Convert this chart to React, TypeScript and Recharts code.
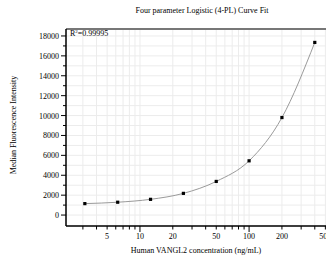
import React from "react";
import { LineChart, Line, XAxis, YAxis, CartesianGrid, ReferenceLine } from "recharts";

const concentrations = [3.125, 6.25, 12.5, 25, 50, 100, 200, 400];
const mfiValues = [1150, 1290, 1580, 2180, 3380, 5450, 9800, 17350];
const xTickValues = [3, 4, 5, 6, 7, 8, 9, 10, 20, 30, 40, 50, 60, 70, 80, 90, 100, 200, 300, 400, 500, 600];
const xLabelValues = [5, 10, 20, 50, 100, 200, 500];
const xMajorValues = [10, 100];
const yTickValues = [0, 1000, 2000, 3000, 4000, 5000, 6000, 7000, 8000, 9000, 10000, 11000, 12000, 13000, 14000, 15000, 16000, 17000, 18000];
const yLabelValues = [0, 2000, 4000, 6000, 8000, 10000, 12000, 14000, 16000, 18000];

const data = concentrations.map((c, i) => ({ conc: c, mfi: mfiValues[i] }));

const FONT = "'Liberation Serif', 'DejaVu Serif', serif";

const XTick = (props: any) => {
  const { x, y, payload } = props;
  const v = payload.value;
  const major = xMajorValues.includes(v);
  const labeled = xLabelValues.includes(v);
  return (
    <g>
      <line x1={x} x2={x} y1={y} y2={y + (major ? 6 : 3.5)} stroke="#000" strokeWidth={1} />
      {labeled && (
        <text x={x} y={y + 13} textAnchor="middle" fontSize={8} fontFamily={FONT} fill="#000">
          {v}
        </text>
      )}
    </g>
  );
};

const YTick = (props: any) => {
  const { x, y, payload } = props;
  const v = payload.value;
  const labeled = yLabelValues.includes(v);
  return (
    <g>
      <line x1={x} x2={x - (labeled ? 5 : 3)} y1={y} y2={y} stroke="#000" strokeWidth={1} />
      {labeled && (
        <text x={x - 7} y={y + 3} textAnchor="end" fontSize={8} fontFamily={FONT} fill="#000">
          {v}
        </text>
      )}
    </g>
  );
};

const SquareDot = (props: any) => {
  const { cx, cy, index } = props;
  return <rect key={`d${index}`} x={cx - 1.6} y={cy - 1.6} width={3.2} height={3.2} fill="#000" />;
};

export default function App() {
  return (
    <div style={{ position: "absolute", left: 0, top: 0, width: 326, height: 268, overflow: "hidden", background: "#fff" }}>
      <LineChart width={340} height={268} data={data} margin={{ top: 29, right: 6, bottom: 0, left: 0 }}>
        <CartesianGrid stroke="#ececec" strokeWidth={1} />
        <XAxis
          dataKey="conc"
          type="number"
          scale="log"
          domain={[2.1, 600]}
          ticks={xTickValues}
          tick={<XTick />}
          tickLine={false}
          tickSize={0}
          tickMargin={0}
          axisLine={{ stroke: "#000", strokeWidth: 1.5 }}
          height={42}
          interval={0}
          allowDataOverflow
        />
        <YAxis
          type="number"
          domain={[-1100, 18700]}
          ticks={yTickValues}
          tick={<YTick />}
          tickLine={false}
          tickSize={0}
          tickMargin={0}
          axisLine={{ stroke: "#000", strokeWidth: 1.5 }}
          width={66}
          interval={0}
          allowDataOverflow
        />
        <ReferenceLine y={18700} stroke="#777" strokeWidth={2} ifOverflow="extendDomain" />
        <Line
          dataKey="mfi"
          type="monotone"
          stroke="#9a9a9a"
          strokeWidth={1}
          dot={<SquareDot />}
          isAnimationActive={false}
        />
      </LineChart>
      <div style={{ position: "absolute", left: 0, width: 404, top: 6, textAlign: "center", fontFamily: FONT, fontSize: 8, whiteSpace: "nowrap" }}>
        Four parameter Logistic (4-PL) Curve Fit
      </div>
      <div style={{ position: "absolute", left: 70, top: 29, fontFamily: FONT, fontSize: 8, whiteSpace: "nowrap" }}>
        R<sup style={{ fontSize: 5, verticalAlign: "top", lineHeight: "6px" }}>2</sup>=0.99995
      </div>
      <div style={{ position: "absolute", left: 196, top: 246, transform: "translateX(-50%)", fontFamily: FONT, fontSize: 8, whiteSpace: "nowrap" }}>
        Human VANGL2 concentration (ng/mL)
      </div>
      <div style={{ position: "absolute", left: 13, top: 125, transform: "translate(-50%, -50%) rotate(-90deg)", fontFamily: FONT, fontSize: 8, whiteSpace: "nowrap" }}>
        Median Fluorescence Intensity
      </div>
    </div>
  );
}
